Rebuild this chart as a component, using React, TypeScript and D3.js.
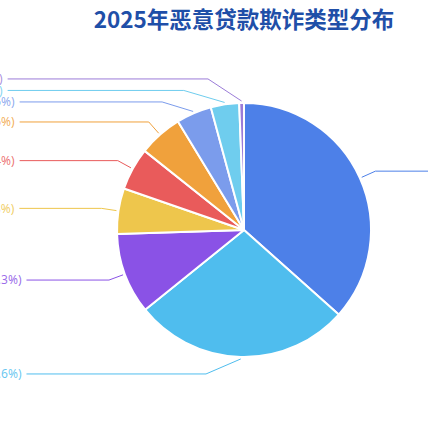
import React, { useMemo } from 'react';
import * as d3 from 'd3';

const title = '2025年恶意贷款欺诈类型分布';
const categories = ['冒用他人身份', '团伙式骗贷', '恶意逃废债', 'AI换脸骗贷', '职业背债人', '伪造流水单', '虚假抵押物', '虚假担保', '其他类型'];
const shares = [36.6, 27.6, 10.3, 5.8, 5.4, 5.6, 4.5, 3.6, 0.6];
const colors = ['#4d80e8', '#4fbdee', '#8a52e6', '#eec64c', '#e95b5b', '#f0a13c', '#7b9cec', '#6fcdee', '#9b7cd8'];

const W = 428;
const H = 423;
const CX = 244;
const CY = 230;
const R = 127;
const LEN1 = 17;
const LABEL_EDGE = -79.5;
const GAP = 5;
const MIN_GAP = 11.5;
const MIN_DX = 38;
const LABEL_FONT = '12px "Noto Sans", "Noto Sans CJK SC", sans-serif';

function measure(text: string): number {
  const c = document.createElement('canvas').getContext('2d');
  if (!c) return text.length * 10;
  c.font = LABEL_FONT;
  return c.measureText(text).width;
}

export default function App() {
  const data = useMemo(() => {
    const pie = d3.pie<number>().sort(null).value((d) => d)(shares);
    const arc = d3.arc<d3.PieArcDatum<number>>().innerRadius(0).outerRadius(R);
    const items = pie.map((p, i) => {
      const mid = (p.startAngle + p.endAngle) / 2;
      const s = Math.sin(mid);
      const c = Math.cos(mid);
      const text = `${categories[i]}(${shares[i].toFixed(1)}%)`;
      return {
        i,
        path: arc(p) as string,
        color: colors[i],
        text,
        left: s < 0,
        p0: [CX + (R + 2) * s, CY - (R + 2) * c],
        bend: [CX + (R + LEN1) * s, CY - (R + LEN1) * c],
        y: CY - (R + LEN1) * c,
        idealY: CY - (R + LEN1) * c,
      };
    });
    // anti-overlap on each side
    [true, false].forEach((side) => {
      const group = items.filter((d) => d.left === side).sort((a, b) => a.y - b.y);
      for (let it = 0; it < 200; it++) {
        for (let k = 1; k < group.length; k++) {
          const d = group[k].y - group[k - 1].y;
          if (d < MIN_GAP) {
            const sh = (MIN_GAP - d) / 2;
            group[k - 1].y -= sh;
            group[k].y += sh;
          }
        }
      }
    });
    items.forEach((d) => {
      const sign = d.left ? -1 : 1;
      if (Math.abs(d.y - d.idealY) > 0.5) {
        const dy = d.y - CY;
        const rm = R + LEN1 + 8;
        const dx = Math.sqrt(Math.max(rm * rm - dy * dy, (MIN_DX - 2) * (MIN_DX - 2)));
        d.bend = [CX + sign * dx, d.y];
      } else {
        const dx = Math.max(Math.abs(d.bend[0] - CX), MIN_DX);
        d.bend = [CX + sign * dx, d.y];
      }
    });
    return items.map((d) => {
      const w = measure(d.text);
      const textX = d.left ? LABEL_EDGE : W + 14;
      const endX = d.left ? LABEL_EDGE + w + GAP : W + 14 - GAP;
      return { ...d, textX, endX };
    });
  }, []);

  const line = d3.line();

  return (
    <svg
      width={W}
      height={H}
      style={{ position: 'absolute', left: 0, top: 0, background: '#ffffff' }}
    >
      <text
        x={CX}
        y={28}
        textAnchor="middle"
        fontFamily='"Noto Sans CJK SC", sans-serif'
        fontWeight={700}
        fontSize={22.5}
        fill="#1f4fa8"
      >
        {title}
      </text>
      <g>
        {data.map((d) => (
          <path
            key={`s${d.i}`}
            d={d.path}
            transform={`translate(${CX},${CY})`}
            fill={d.color}
            stroke="#ffffff"
            strokeWidth={2}
            strokeLinejoin="round"
          />
        ))}
      </g>
      <g fill="none" strokeWidth={1}>
        {data.map((d) => (
          <path
            key={`l${d.i}`}
            d={line([d.p0 as [number, number], d.bend as [number, number], [d.endX, d.y]]) as string}
            stroke={d.color}
          />
        ))}
      </g>
      <g style={{ font: LABEL_FONT }}>
        {data.map((d) => (
          <text
            key={`t${d.i}`}
            x={d.textX}
            y={d.y}
            dy="0.35em"
            textAnchor="start"
            fill={d.color}
            fillOpacity={0.85}
          >
            {d.text}
          </text>
        ))}
      </g>
    </svg>
  );
}
